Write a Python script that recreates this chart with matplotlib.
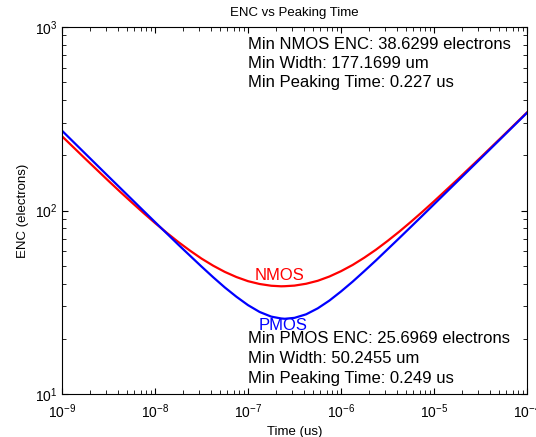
import matplotlib
matplotlib.use('Agg')
import matplotlib.pyplot as plt

plt.rcParams['font.family'] = ['Liberation Sans', 'DejaVu Sans']

# peaking time (log-spaced readings) and ENC
peak_time = [1e-9, 1.778e-9, 3.162e-9, 4.217e-9, 5.623e-9, 7.499e-9, 1e-8, 1.334e-8,
             1.778e-8, 2.371e-8, 3.162e-8, 4.217e-8, 5.623e-8, 7.499e-8, 1e-7, 1.334e-7,
             1.778e-7, 2.27e-7, 2.49e-7, 3.162e-7, 4.217e-7, 5.623e-7, 7.499e-7, 1e-6,
             1.334e-6, 1.778e-6, 2.371e-6, 3.162e-6, 4.217e-6, 5.623e-6, 7.499e-6, 1e-5,
             1.778e-5, 3.162e-5, 5.623e-5, 1e-4]
enc_nmos = [253.9, 191.5, 145.0, 126.5, 110.7, 97.1, 85.5, 75.7,
            67.4, 60.5, 54.7, 50.05, 46.3, 43.4, 41.2, 39.76,
            38.9, 38.63, 38.68, 38.97, 39.89, 41.4, 43.67, 46.7,
            50.5, 55.3, 61.1, 68.2, 76.6, 86.6, 98.4, 112.2,
            147.1, 194.2, 257.6, 342.4]
enc_pmos = [272.2, 204.2, 153.2, 132.8, 115.1, 99.75, 86.5, 75.1,
            65.2, 56.8, 49.5, 43.3, 38.1, 33.9, 30.5, 27.99,
            26.4, 25.8, 25.70, 26.0, 27.18, 29.3, 32.29, 36.2,
            40.95, 46.7, 53.4, 61.4, 70.6, 81.3, 93.7, 108.1,
            143.9, 191.7, 255.5, 340.7]

nmos_info = ['Min NMOS ENC: 38.6299 electrons',
             'Min Width: 177.1699 um',
             'Min Peaking Time: 0.227 us']
pmos_info = ['Min PMOS ENC: 25.6969 electrons',
             'Min Width: 50.2455 um',
             'Min Peaking Time: 0.249 us']

fig = plt.figure(figsize=(5.36, 4.37), dpi=100)
ax = fig.add_axes([0.1157, 0.0984, 0.8675, 0.8398])

ax.loglog(peak_time, enc_nmos, color='#ff0000', lw=1.6)
ax.loglog(peak_time, enc_pmos, color='#0000ff', lw=1.6)

ax.set_xlim(1e-9, 1e-4)
ax.set_ylim(10, 1000)

ax.tick_params(which='both', direction='in', top=True, right=True, labelsize=10)
ax.tick_params(which='major', length=4)
ax.tick_params(which='minor', length=3)
ax.tick_params(axis='x', which='major', pad=6)
for s in ax.spines.values():
    s.set_linewidth(0.8)

ax.set_title('ENC vs Peaking Time', fontsize=9.5, pad=8)
ax.set_xlabel('Time (us)', fontsize=9.5, labelpad=4)
ax.set_ylabel('ENC (electrons)', fontsize=9.5, labelpad=4)

ax.text(1.19e-7, 44.5, 'NMOS', color='#ff0000', fontsize=12, va='center')
ax.text(1.31e-7, 23.5, 'PMOS', color='#0000ff', fontsize=12, va='center')

for i, line in enumerate(nmos_info):
    fig.text(0.4627, 0.8993 - i * 0.0435, line, fontsize=12, va='center')
for i, line in enumerate(pmos_info):
    fig.text(0.4627, 0.2265 - i * 0.0458, line, fontsize=12, va='center')

fig.savefig('out.png', dpi=100)
